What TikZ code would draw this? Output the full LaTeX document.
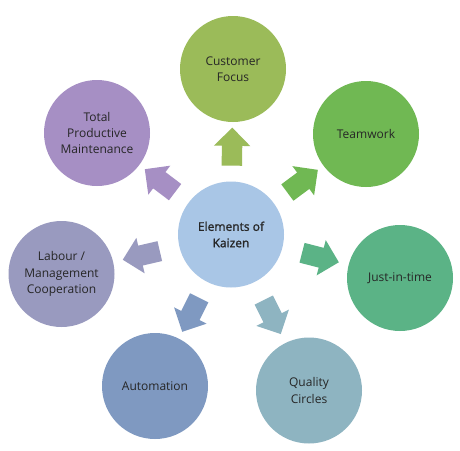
\documentclass[tikz,border=0pt]{standalone}
\usepackage{fontspec}
\setmainfont{Open Sans}
\newfontfamily\semib[FakeBold=1.2]{Open Sans}
\usetikzlibrary{shapes.arrows,calc}
\definecolor{cc}{HTML}{A9C6E6}
\definecolor{cfc}{HTML}{9BBB59}
\definecolor{twc}{HTML}{70B853}
\definecolor{jtc}{HTML}{5BB386}
\definecolor{qcc}{HTML}{8EB4C1}
\definecolor{auc}{HTML}{7F99C1}
\definecolor{lmc}{HTML}{999ABF}
\definecolor{tpc}{HTML}{A68FC4}
\definecolor{txt}{HTML}{262626}
\begin{document}
\begin{tikzpicture}[x=1pt,y=-1pt,
  bubble/.style={circle, minimum size=106pt, inner sep=0pt, align=center,
    font=\fontsize{12}{16.4}\selectfont, text=txt},
  barrow/.style={single arrow, minimum height=38pt, inner sep=10pt,
    single arrow head extend=8pt, single arrow head indent=0pt}]
\useasboundingbox[fill=white] (0,0) rectangle (460,450);
\node[bubble, fill=cc, font=\fontsize{12}{16.4}\semib] (c) at (231,234.5) {Elements of\\Kaizen};
\node[bubble, fill=cfc] (cf) at (233,69) {Customer\\Focus};
\node[bubble, fill=twc] (tw) at (366,134) {Teamwork};
\node[bubble, fill=jtc] (jt) at (400,278) {Just-in-time};
\node[bubble, fill=qcc] (qc) at (309,390.5) {Quality\\Circles};
\node[bubble, fill=auc] (au) at (155,386) {Automation};
\node[bubble, fill=lmc] (lm) at (61.5,274) {Labour /\\Management\\Cooperation};
\node[bubble, fill=tpc] (tp) at (97,133) {Total\\Productive\\Maintenance};
\foreach \t/\col in {cf/cfc, tw/twc, jt/jtc, qc/qcc, au/auc, lm/lmc, tp/tpc} {
  \path let \p1=($(\t)-(c)$), \n1={atan2(\y1,\x1)} in
    node[barrow, fill=\col, rotate=\n1] (a\t) at ($(c)!0.5!(\t)$) {};
}
\end{tikzpicture}
\end{document}
